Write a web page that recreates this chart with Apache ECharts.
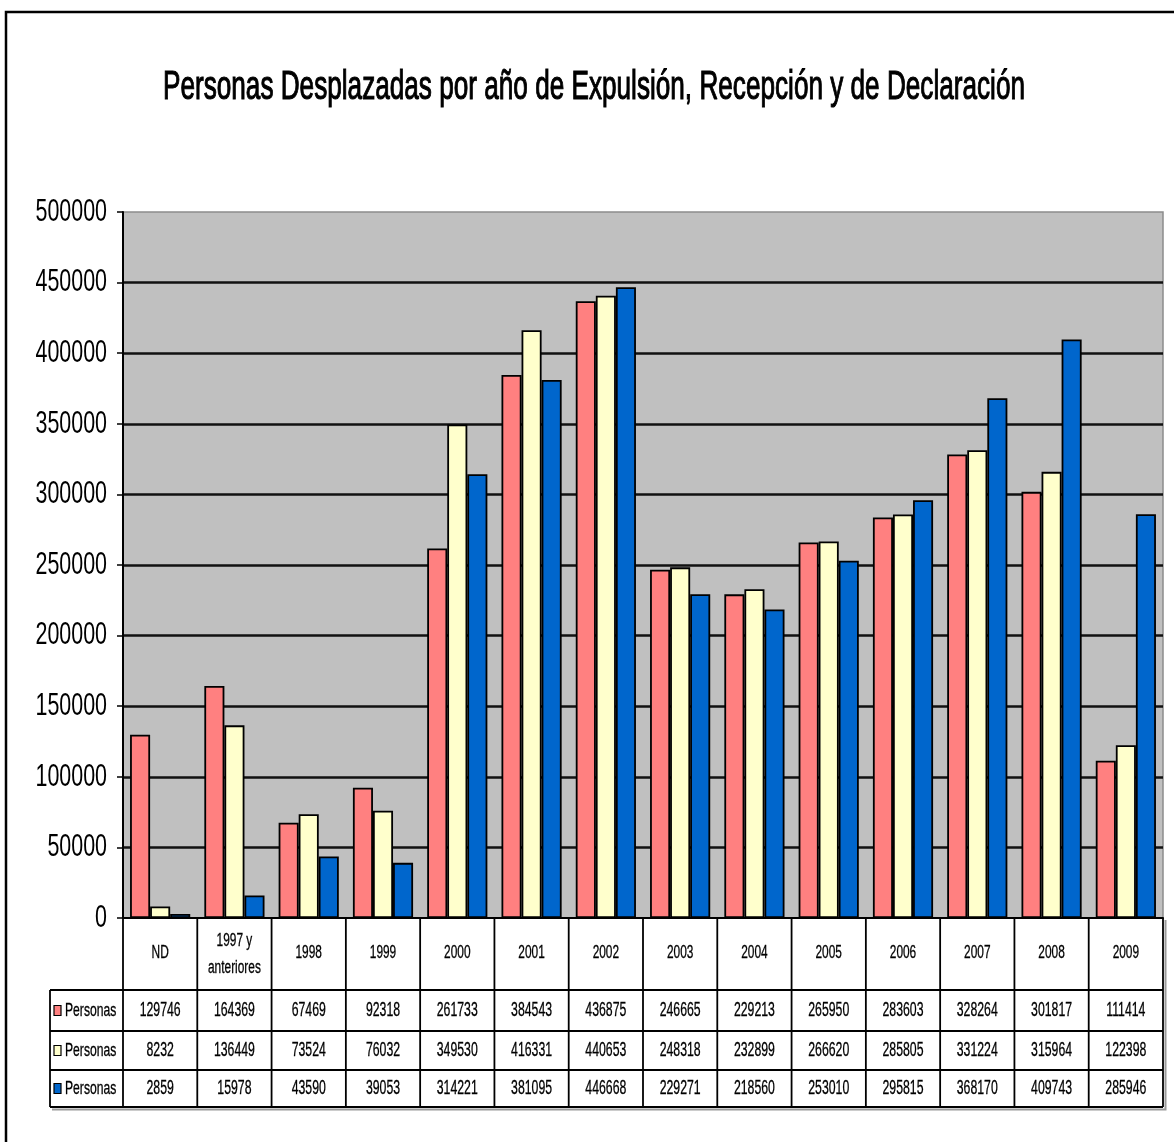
<!DOCTYPE html>
<html>
<head>
<meta charset="utf-8">
<script src="https://cdn.jsdelivr.net/npm/echarts@6/dist/echarts.min.js"></script>
<style>
  html, body { margin: 0; padding: 0; background: #fff; }
  #chart { width: 1174px; height: 1142px; }
</style>
</head>
<body>
<div id="chart"></div>
<script>
// Displaced persons by year of expulsion, reception and declaration
const titleText = 'Personas Desplazadas por año de Expulsión, Recepción y de Declaración';
const categories = ['ND', '1997 y\nanteriores', '1998', '1999', '2000', '2001', '2002', '2003', '2004', '2005', '2006', '2007', '2008', '2009'];
const expulsion = [129746, 164369, 67469, 92318, 261733, 384543, 436875, 246665, 229213, 265950, 283603, 328264, 301817, 111414];
const recepcion = [8232, 136449, 73524, 76032, 349530, 416331, 440653, 248318, 232899, 266620, 285805, 331224, 315964, 122398];
const declaracion = [2859, 15978, 43590, 39053, 314221, 381095, 446668, 229271, 218560, 253010, 295815, 368170, 409743, 285946];
const seriesNames = ['Personas', 'Personas', 'Personas'];
const seriesColors = ['#FF8080', '#FFFFCC', '#0066CC'];
const yTicks = [0, 50000, 100000, 150000, 200000, 250000, 300000, 350000, 400000, 450000, 500000];

const FONT = '"Liberation Sans", Arial, sans-serif';
const chart = echarts.init(document.getElementById('chart'), null, { renderer: 'canvas' });

const seriesData = [expulsion, recepcion, declaracion];

chart.setOption({
  animation: false,
  backgroundColor: '#ffffff',
  grid: {
    left: 123, top: 212, width: 1040, height: 706,
    show: true, backgroundColor: '#C0C0C0', borderColor: '#8c8c8c', borderWidth: 1.5
  },
  xAxis: {
    type: 'category',
    data: categories,
    axisLine: { lineStyle: { color: '#000', width: 2 } },
    axisTick: { show: false },
    axisLabel: { show: false }
  },
  yAxis: {
    type: 'value',
    min: 0, max: 500000, interval: 50000,
    axisLine: { show: true, lineStyle: { color: '#000', width: 2 } },
    axisTick: { show: true, length: 6, lineStyle: { color: '#000', width: 1.5 } },
    axisLabel: { show: false },
    splitLine: { show: true, showMinLine: false, showMaxLine: false, lineStyle: { color: '#111', width: 2.5 } }
  },
  series: seriesData.map((d, i) => ({
    type: 'bar',
    name: seriesNames[i],
    data: d,
    barGap: '0%',
    barCategoryGap: '19%',
    itemStyle: { color: seriesColors[i], borderColor: '#000', borderWidth: 1.8 }
  }))
});

// Condensed text helper: squeeze horizontally, optional outline for weight
const measureCtx = document.createElement('canvas').getContext('2d');
function condensedText(str, x, y, size, scaleX, align, weight) {
  const style = {
    text: str, fill: '#000',
    font: size + 'px ' + FONT,
    align: align, verticalAlign: 'middle',
    textAlign: align, textVerticalAlign: 'middle'
  };
  if (weight) { style.stroke = '#000'; style.lineWidth = weight; }
  return { type: 'text', x: x, y: y, scaleX: scaleX, scaleY: 1, style: style, z: 100 };
}

const graphics = [];

// outer frame
graphics.push({
  type: 'polyline', shape: { points: [[6, 1142], [6, 12], [1174, 12]] },
  style: { stroke: '#000', lineWidth: 2.5, fill: null }, z: 100
});

// title, squeezed to its frame width
measureCtx.font = '40px ' + FONT;
const titleW = measureCtx.measureText(titleText).width;
graphics.push(condensedText(titleText, 594, 88, 40, 862 / titleW, 'center', 1.1));

// y tick labels
yTicks.forEach(v => {
  const py = chart.convertToPixel({ yAxisIndex: 0 }, v);
  graphics.push(condensedText(String(v), 107, py, 32, 0.67, 'right'));
});

// data table under the axis
const axisY = chart.convertToPixel({ yAxisIndex: 0 }, 0);
const band = chart.convertToPixel({ xAxisIndex: 0 }, 1) - chart.convertToPixel({ xAxisIndex: 0 }, 0);
const rowLines = [990, 1031, 1070, 1107];
const tableLeft = 50;
const lineStyle = { stroke: '#000', lineWidth: 1.8 };
const firstEdge = chart.convertToPixel({ xAxisIndex: 0 }, 0) - band / 2;
const lastEdge = chart.convertToPixel({ xAxisIndex: 0 }, categories.length - 1) + band / 2;

// drop shadow along bottom and right
graphics.push({ type: 'polyline', shape: { points: [[tableLeft + 2, rowLines[3] + 2.5], [lastEdge + 2.5, rowLines[3] + 2.5], [lastEdge + 2.5, axisY + 2]] },
  style: { stroke: '#9a9a9a', lineWidth: 2, fill: null }, z: 99 });

for (let i = 0; i <= categories.length; i++) {
  const x = firstEdge + i * band;
  graphics.push({ type: 'line', shape: { x1: x, y1: axisY, x2: x, y2: rowLines[3] }, style: lineStyle, z: 100 });
}
rowLines.forEach(y => {
  graphics.push({ type: 'line', shape: { x1: tableLeft, y1: y, x2: lastEdge, y2: y }, style: lineStyle, z: 100 });
});
graphics.push({ type: 'line', shape: { x1: tableLeft, y1: rowLines[0], x2: tableLeft, y2: rowLines[3] }, style: lineStyle, z: 100 });

// header cells
categories.forEach((c, i) => {
  const cx = chart.convertToPixel({ xAxisIndex: 0 }, i);
  const lines = c.split('\n');
  if (lines.length === 1) {
    graphics.push(condensedText(c, cx, 953, 18, 0.66, 'center', 0.3));
  } else {
    graphics.push(condensedText(lines[0], cx, 941, 18, 0.66, 'center', 0.3));
    graphics.push(condensedText(lines[1], cx, 968, 18, 0.66, 'center', 0.3));
  }
});

// value rows with legend keys
seriesData.forEach((d, r) => {
  const cy = (rowLines[r] + rowLines[r + 1]) / 2;
  graphics.push({ type: 'rect', shape: { x: 54, y: cy - 5, width: 7, height: 10 },
    style: { fill: seriesColors[r], stroke: '#000', lineWidth: 1.2 }, z: 100 });
  graphics.push(condensedText(seriesNames[r], 65, cy, 19, 0.64, 'left', 0.3));
  d.forEach((v, i) => {
    const cx = chart.convertToPixel({ xAxisIndex: 0 }, i);
    graphics.push(condensedText(String(v), cx, cy, 19.5, 0.63, 'center', 0.3));
  });
});

chart.setOption({ graphic: { elements: graphics } });
</script>
</body>
</html>
